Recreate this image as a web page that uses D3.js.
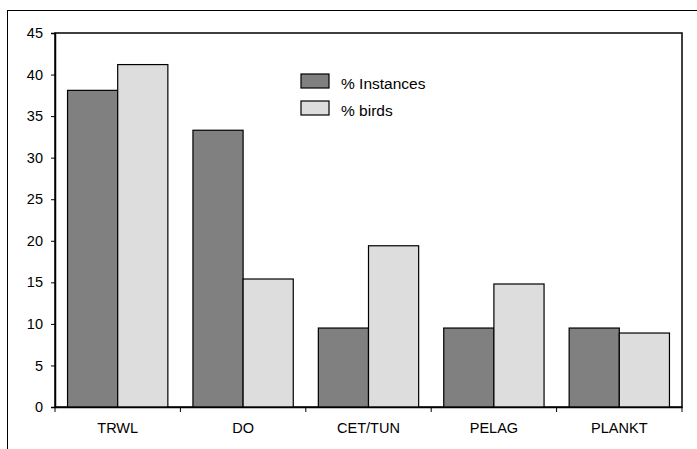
<!DOCTYPE html>
<html><head><meta charset="utf-8">
<script src="https://cdn.jsdelivr.net/npm/d3@7"></script>
<style>body{margin:0;background:#fff}svg{display:block}text{font-family:"Liberation Sans",Arial,sans-serif}</style>
</head><body>
<script>
const categories = ["TRWL","DO","CET/TUN","PELAG","PLANKT"];
const instances = [38.1, 33.3, 9.5, 9.5, 9.5];
const birds = [41.2, 15.4, 19.4, 14.8, 8.9];
const seriesNames = ["% Instances","% birds"];
const yTicks = [0,5,10,15,20,25,30,35,40,45];

const W=697,H=449;
const svg=d3.select("body").append("svg").attr("width",W).attr("height",H);
svg.append("rect").attr("width",W).attr("height",H).attr("fill","#fff");
// outer chart frame
svg.append("rect").attr("x",7.5).attr("y",10.5).attr("width",700).attr("height",450)
  .attr("fill","none").attr("stroke","#000").attr("stroke-width",1);

const L=55,R=682,T=33,B=407;
const x=d3.scaleBand().domain(categories).range([L,R]).paddingInner(0).paddingOuter(0);
const y=d3.scaleLinear().domain([0,45]).range([B,T]);
const inner=d3.scaleBand().domain(seriesNames).range([0,x.bandwidth()]).paddingInner(0).paddingOuter(0.25);
const colors=["#808080","#dddddd"];

// plot border
svg.append("rect").attr("x",L).attr("y",T).attr("width",R-L).attr("height",B-T)
  .attr("fill","none").attr("stroke","#000").attr("stroke-width",1.5);

const data=[instances,birds];
seriesNames.forEach((s,si)=>{
  svg.append("g").selectAll("rect").data(categories).join("rect")
    .attr("x",(c)=>x(c)+inner(s))
    .attr("y",(c,i)=>y(data[si][i]))
    .attr("width",inner.bandwidth())
    .attr("height",(c,i)=>B-y(data[si][i]))
    .attr("fill",colors[si]).attr("stroke","#000").attr("stroke-width",1.2);
});

// y axis
const ya=svg.append("g").attr("transform",`translate(${L},0)`)
  .call(d3.axisLeft(y).tickValues(yTicks).tickSize(4).tickPadding(8).tickFormat(d3.format("d")));
ya.select(".domain").attr("stroke","#000").attr("stroke-width",1.5);
ya.selectAll("text").attr("font-size",14.5).attr("fill","#000");

// x axis with ticks at category boundaries
const xa=svg.append("g").attr("transform",`translate(0,${B})`)
  .call(d3.axisBottom(x).tickSize(0).tickPadding(15.5));
xa.select(".domain").attr("stroke","#000").attr("stroke-width",1.5);
xa.selectAll("text").attr("font-size",14.5).attr("fill","#000");
svg.append("g").selectAll("line").data(categories.concat(["_end"])).join("line")
  .attr("x1",(c,i)=>L+i*x.bandwidth()).attr("x2",(c,i)=>L+i*x.bandwidth())
  .attr("y1",B).attr("y2",B+5).attr("stroke","#000").attr("stroke-width",1);

// legend
const lg=svg.append("g");
seriesNames.forEach((s,i)=>{
  const yy=74+i*27;
  lg.append("rect").attr("x",301).attr("y",yy).attr("width",28).attr("height",14)
    .attr("fill",colors[i]).attr("stroke","#000").attr("stroke-width",1.2);
  lg.append("text").attr("x",341).attr("y",yy+14.5).attr("font-size",15.5).attr("fill","#000").text(s);
});
</script>
</body></html>
